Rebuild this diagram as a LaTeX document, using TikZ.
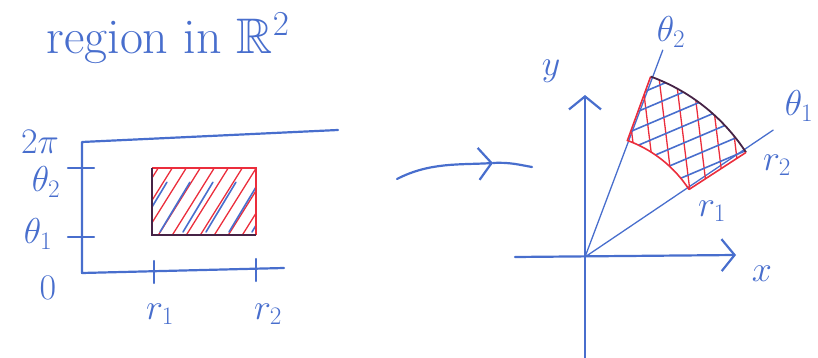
\RequirePackage{fix-cm}
\documentclass[tikz,border=0pt]{standalone}
\usepackage{amssymb}
\DeclareFontFamily{U}{msb}{}
\DeclareFontShape{U}{msb}{m}{n}{<-> msbm10}{}
\usetikzlibrary{arrows.meta,calc}
\definecolor{penblue}{RGB}{72,110,205}
\definecolor{penred}{RGB}{235,45,60}
\definecolor{pendark}{RGB}{70,35,70}
\tikzset{
  pen/.style={draw=penblue,line width=2.2pt,line cap=round,line join=round},
  thinpen/.style={draw=penblue,line width=1.3pt,line cap=round},
  redpen/.style={draw=penred,line width=1.3pt,line cap=round},
  bluehatch/.style={draw=penblue,line width=1.6pt,line cap=round},
  barb/.style={-{Straight Barb[length=13pt,width=32pt,line width=2.2pt]}},
  lbl/.style={text=penblue,inner sep=0pt,font=\fontsize{36}{38}\selectfont},
}
\begin{document}
\begin{tikzpicture}[x=1pt,y=1pt]
\useasboundingbox (0,0) rectangle (818,358);
% ---------- title
\node[lbl,font=\fontsize{50}{54}\selectfont] (title) at (168,320) {region in $\mathbb{R}^2$};
% ---------- left: (r,theta) plane
\coordinate (vtop) at (82,216);
\coordinate (corner) at (82,85);
\coordinate (hend) at (284,90);
\coordinate (topend) at (338,228);
\draw[pen] (topend) -- (vtop) -- (corner) -- (hend);
% ticks
\coordinate (t2a) at (68,190); \coordinate (t2b) at (94,190);
\coordinate (t1a) at (68,121); \coordinate (t1b) at (94,121);
\coordinate (r1a) at (154,97); \coordinate (r1b) at (154,75);
\coordinate (r2a) at (256,99); \coordinate (r2b) at (256,77);
\draw[pen] (t2a) -- (t2b);
\draw[pen] (t1a) -- (t1b);
\draw[pen] (r1a) -- (r1b);
\draw[pen] (r2a) -- (r2b);
% rectangle
\coordinate (RA) at (152,123);
\coordinate (RB) at (256,190);
\begin{scope}
  \clip (RA) rectangle (RB);
  \foreach \s in {60,74,...,300} \draw[redpen] (\s,100) -- ++(58:140);
  \foreach \s in {85,108,...,280} \draw[bluehatch] (\s+6,126) -- ++(59:58);
\end{scope}
\draw[draw=penred,line width=1.6pt] (152,190) -- (256,190) -- (256,123);
\draw[draw=pendark,line width=1.8pt] (256,123) -- (152,123) -- (152,190);
% labels left
\node[lbl] (l2pi) at (40,216) {$2\pi$};
\node[lbl] (lth2) at (46,176) {$\theta_2$};
\node[lbl] (lth1) at (38,124) {$\theta_1$};
\node[lbl] (l0) at (48,70) {$0$};
\node[lbl] (lr1) at (160,44) {$r_1$};
\node[lbl] (lr2) at (268,44) {$r_2$};
% ---------- arrow
\coordinate (a1) at (397,179);
\coordinate (a2) at (493,195);
\coordinate (a3) at (532,191);
\draw[pen,barb] (a1) .. controls (430,196) and (460,193) .. (a2);
\draw[pen] (a2) .. controls (510,196) and (520,193) .. (a3);
% ---------- right: xy plane
\coordinate (O) at (585,101);
\coordinate (ybot) at (585,0);
\coordinate (ytop) at (585,263);
\coordinate (xl) at (515,101);
\coordinate (xr) at (736,103);
\draw[pen,barb] (ybot) -- (ytop);
\draw[pen,barb] (xl) -- (xr);
\node[lbl] (ly) at (551,287) {$y$};
\node[lbl] (lx) at (762,84) {$x$};
% rays
\coordinate (ray2) at ($(O)+(69.4:221)$);
\coordinate (ray1) at ($(O)+(34:227)$);
\draw[thinpen] (O) -- (ray2);
\draw[thinpen] (O) -- (ray1);
\node[lbl] (lt2) at (671,326) {$\theta_2$};
\node[lbl] (lt1) at (799,252) {$\theta_1$};
% sector
\coordinate (i1) at ($(O)+(33:124)$);
\coordinate (o2) at ($(O)+(70:192)$);
\begin{scope}
  \clip (i1) arc[start angle=33,end angle=70,radius=124] -- (o2)
        arc[start angle=70,end angle=33,radius=192] -- cycle;
  \foreach \s in {590,607,...,790} \draw[redpen] (\s,150) -- ++(97:220);
  \foreach \s in {120,137,...,340} \draw[bluehatch] (580,\s) -- ++(23:240);
\end{scope}
\draw[draw=penred,line width=1.6pt] (i1) arc[start angle=33,end angle=70,radius=124] -- (o2);
\draw[draw=pendark,line width=1.8pt] (o2) arc[start angle=70,end angle=33,radius=192];
\draw[draw=penred,line width=1.6pt] ($(O)+(33:192)$) -- (i1);
\node[lbl] (lr2r) at (777,193) {$r_2$};
\node[lbl] (lr1r) at (712,147) {$r_1$};
\end{tikzpicture}
\end{document}
